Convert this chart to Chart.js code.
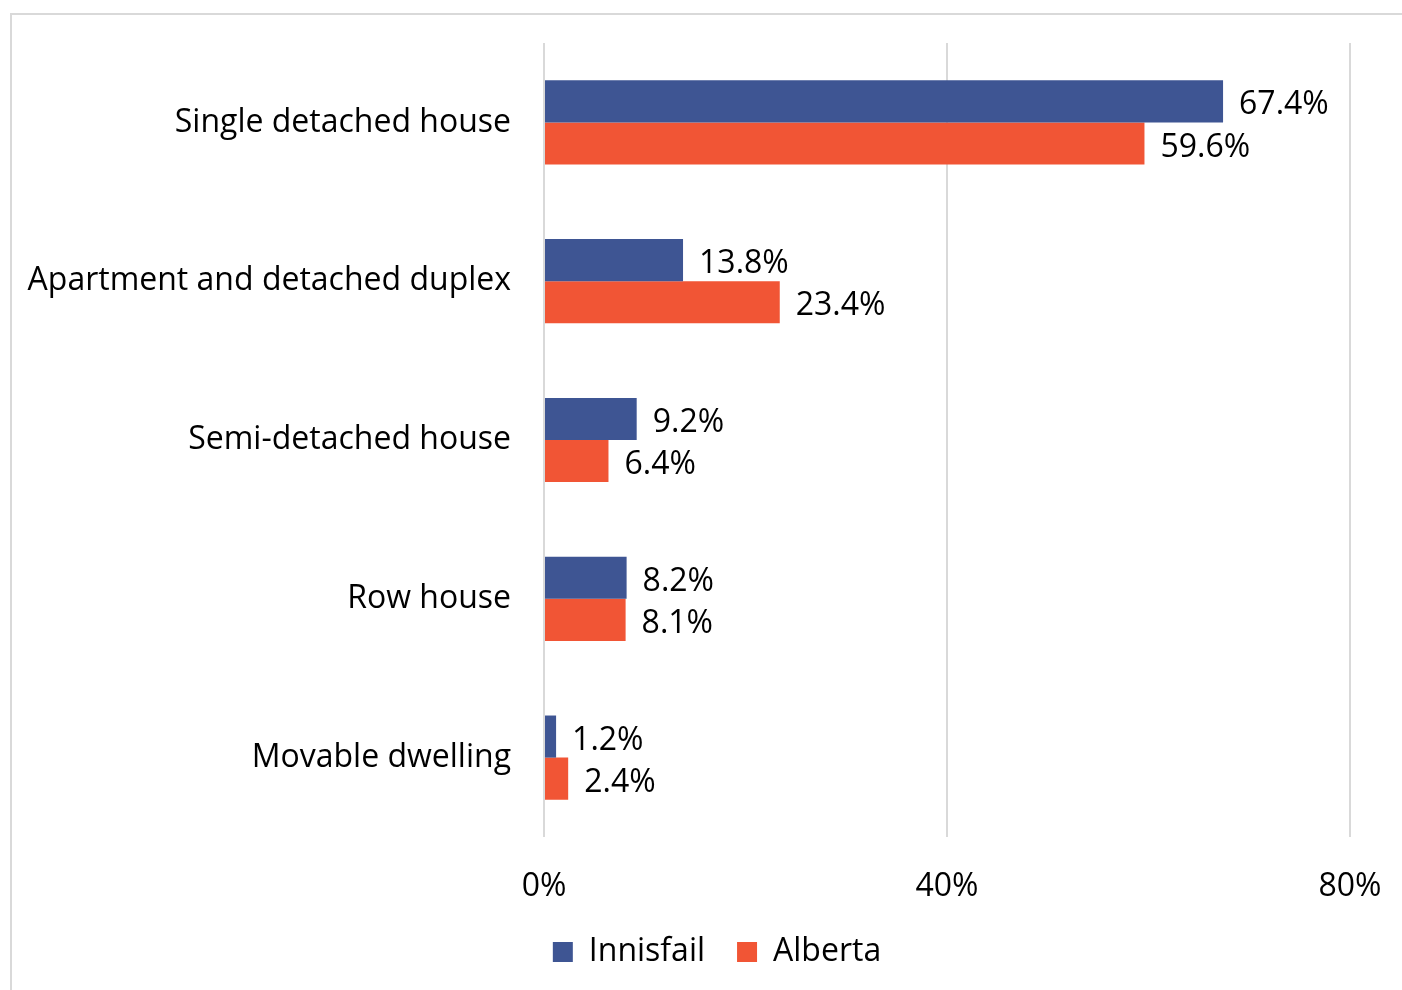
<!DOCTYPE html>
<html>
<head>
<meta charset="utf-8">
<script src="https://cdn.jsdelivr.net/npm/chart.js@4.4.0/dist/chart.umd.min.js"></script>
<style>
  html, body { margin: 0; padding: 0; background: #fff; overflow: hidden; }
  #frame { position: absolute; left: 10px; top: 13px; width: 1392px; height: 977px;
           border-top: 2px solid #d9d9d9; border-left: 2px solid #d9d9d9; box-sizing: border-box; }
  #wrap { position: absolute; left: 0; top: 0; width: 1402px; height: 990px; }
</style>
</head>
<body>
<div id="frame"></div>
<div id="wrap"><canvas id="grafica"></canvas></div>
<script>
// categorias y valores (%)
const categorias = ["Single detached house", "Apartment and detached duplex", "Semi-detached house", "Row house", "Movable dwelling"];
const innisfail = [67.4, 13.8, 9.2, 8.2, 1.2];
const alberta = [59.6, 23.4, 6.4, 8.1, 2.4];
const ticksX = [0, 40, 80];

const fuente = "'Open Sans'";
const tam = 32;

// etiquetas al final de cada barra
const etiquetasBarras = {
    id: 'etiquetasBarras',
    afterLayout(chart) {
        // mover la leyenda un poco a la derecha
        chart.legend.left += 37;
        chart.legend.right += 37;
    },
    afterDatasetsDraw(chart) {
        const ctx = chart.ctx;
        ctx.save();
        ctx.font = tam + 'px ' + fuente;
        ctx.fillStyle = '#000';
        ctx.textBaseline = 'middle';
        ctx.textAlign = 'left';
        chart.data.datasets.forEach((ds, i) => {
            chart.getDatasetMeta(i).data.forEach((bar, j) => {
                ctx.fillText(ds.data[j].toFixed(1) + '%', bar.x + 16, bar.y + 4);
            });
        });
        ctx.restore();
    }
};

new Chart(document.getElementById('grafica'), {
    type: 'bar',
    data: {
        labels: categorias,
        datasets: [
            { label: 'Innisfail', data: innisfail, backgroundColor: '#3e5593' },
            { label: 'Alberta', data: alberta, backgroundColor: '#f15535' }
        ]
    },
    options: {
        indexAxis: 'y',
        responsive: true,
        maintainAspectRatio: false,
        animation: false,
        devicePixelRatio: 1,
        datasets: { bar: { barPercentage: 1, categoryPercentage: 0.53 } },
        layout: { padding: { left: 10, top: 43, right: 52, bottom: 12 } },
        scales: {
            x: {
                min: 0, max: 80,
                afterBuildTicks: (s) => { s.ticks = ticksX.map(v => ({ value: v })); },
                afterFit: (s) => { s.height = 67; s.paddingLeft = 0; s.paddingRight = 0; },
                grid: { color: '#d9d9d9', lineWidth: 2, drawTicks: false },
                border: { display: false },
                ticks: { padding: 31, color: '#000', font: { family: fuente, size: tam },
                         callback: (v) => v + '%' }
            },
            y: {
                afterFit: (s) => { s.width = 534; s.paddingTop = 0; s.paddingBottom = 0; },
                grid: { display: false },
                border: { display: false },
                ticks: { padding: 25, color: '#000', font: { family: fuente, size: tam } }
            }
        },
        plugins: {
            legend: {
                position: 'bottom',
                labels: { boxWidth: 20, boxHeight: 20, padding: 32, color: '#000',
                          font: { family: fuente, size: tam } }
            },
            tooltip: { enabled: false }
        }
    },
    plugins: [etiquetasBarras]
});
</script>
</body>
</html>
